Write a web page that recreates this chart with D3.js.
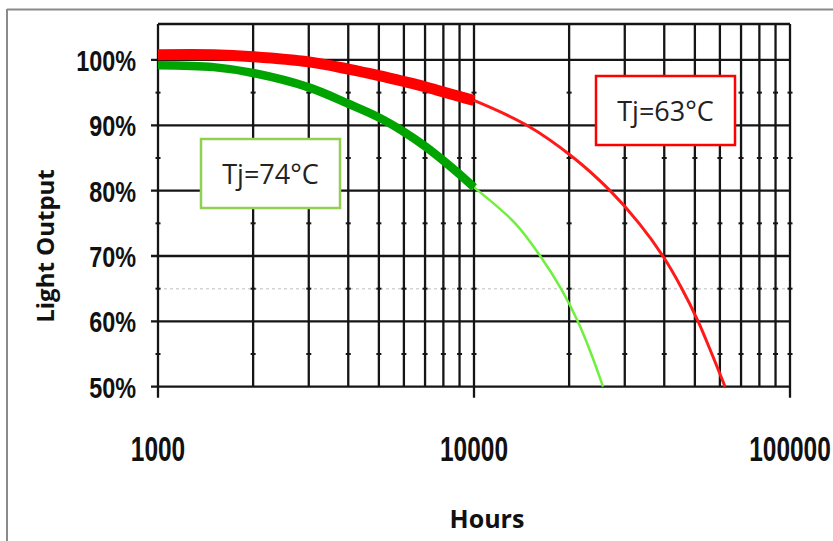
<!DOCTYPE html>
<html>
<head>
<meta charset="utf-8">
<script src="https://cdn.jsdelivr.net/npm/d3@7"></script>
<style>
  body { margin: 0; background: #fff; }
  svg { display: block; }
</style>
</head>
<body>
<div id="chart"></div>
<script>
// values
var yTicks = [50, 60, 70, 80, 90, 100];
var yMinorTicks = [55, 65, 75, 85, 95];
var xLabelTicks = [1000, 10000, 100000];

// Tj=63°C, dense part then single line
var redThickHours = [1000, 1500, 2000, 3000, 4000, 5000, 6000, 7000, 8000, 9000, 10000];
var redThickOutput = [100.8, 100.8, 100.5, 99.7, 98.6, 97.6, 96.7, 95.9, 95.1, 94.4, 93.8];
var redThinHours = [10000, 14700, 20700, 26950, 33300, 39600, 45500, 51200, 56600, 62300];
var redThinOutput = [93.8, 90, 85, 80, 75, 70, 65, 60, 55, 50];

// Tj=74°C
var greenThickHours = [1000, 1500, 2000, 3000, 4000, 5000, 6000, 7000, 8000, 9000, 10000];
var greenThickOutput = [99.2, 98.9, 98.0, 95.8, 93.3, 91.2, 89.0, 86.8, 84.6, 82.5, 80.5];
var greenThinHours = [10000, 13500, 16200, 18850, 21300, 23500, 25600];
var greenThinOutput = [80.5, 75, 70, 65, 60, 55, 50];

function drawChart() {
  var W = 833, H = 541;
  var pLeft = 158, pRight = 790, pTop = 24, pBottom = 386.7;

  var svg = d3.select('#chart').append('svg')
    .attr('width', W)
    .attr('height', H);

  // outer frame (top + left only)
  svg.append('line').attr('x1', 7).attr('x2', W).attr('y1', 9.5).attr('y2', 9.5)
    .attr('stroke', '#8a8a8a').attr('stroke-width', 2);
  svg.append('line').attr('x1', 7).attr('x2', 7).attr('y1', 9).attr('y2', H)
    .attr('stroke', '#8a8a8a').attr('stroke-width', 2);

  var x = d3.scaleLog().domain([1000, 100000]).range([pLeft, pRight]);
  var y = d3.scaleLinear().domain([50, 105.5]).range([pBottom, pTop]);

  var grid = svg.append('g');

  // faint dotted 65% line
  grid.append('line')
    .attr('x1', pLeft).attr('x2', pRight)
    .attr('y1', y(65)).attr('y2', y(65))
    .attr('stroke', '#d4d4d4').attr('stroke-width', 1.5)
    .attr('stroke-dasharray', '3,3');

  // vertical grid lines
  grid.selectAll('.vg').data(x.ticks())
    .enter().append('line')
    .attr('class', 'vg')
    .attr('x1', function(d) { return x(d); })
    .attr('x2', function(d) { return x(d); })
    .attr('y1', pTop)
    .attr('y2', function(d) { return xLabelTicks.indexOf(d) >= 0 ? pBottom + 11 : pBottom; })
    .attr('stroke', '#151515').attr('stroke-width', 2.3);

  // horizontal grid lines
  grid.selectAll('.hg').data(yTicks)
    .enter().append('line')
    .attr('class', 'hg')
    .attr('x1', pLeft - 7).attr('x2', pRight)
    .attr('y1', function(d) { return y(d); })
    .attr('y2', function(d) { return y(d); })
    .attr('stroke', '#151515').attr('stroke-width', 2.3);

  // top border
  grid.append('line')
    .attr('x1', pLeft).attr('x2', pRight)
    .attr('y1', pTop).attr('y2', pTop)
    .attr('stroke', '#151515').attr('stroke-width', 2.3);

  // minor tick dashes on each vertical line
  var minor = [];
  x.ticks().forEach(function(h) {
    yMinorTicks.forEach(function(v) { minor.push([h, v]); });
  });
  grid.selectAll('.mt').data(minor)
    .enter().append('line')
    .attr('x1', function(d) { return x(d[0]) - 2.5; })
    .attr('x2', function(d) { return x(d[0]) + 2.5; })
    .attr('y1', function(d) { return y(d[1]); })
    .attr('y2', function(d) { return y(d[1]); })
    .attr('stroke', '#151515').attr('stroke-width', 2);

  // curves
  var line = d3.line()
    .x(function(d) { return x(d[0]); })
    .y(function(d) { return y(d[1]); })
    .curve(d3.curveCatmullRom.alpha(0.5));

  function pairs(hs, vs) {
    return hs.map(function(h, i) { return [h, vs[i]]; });
  }

  var curves = svg.append('g').attr('fill', 'none');

  curves.append('path')
    .attr('d', line(pairs(greenThinHours, greenThinOutput)))
    .attr('stroke', '#6ef03c').attr('stroke-width', 2.5);
  curves.append('path')
    .attr('d', line(pairs(redThinHours, redThinOutput)))
    .attr('stroke', '#ff1a1a').attr('stroke-width', 3);
  curves.append('path')
    .attr('d', line(pairs(redThickHours, redThickOutput)))
    .attr('stroke', '#ff0000').attr('stroke-width', 11);
  curves.append('path')
    .attr('d', line(pairs(greenThickHours, greenThickOutput)))
    .attr('stroke', '#00a400').attr('stroke-width', 8.5);

  // y tick labels
  svg.selectAll('.yl').data(yTicks)
    .enter().append('text')
    .attr('transform', function(d) { return 'translate(136,' + (y(d) + 11) + ') scale(0.78,1)'; })
    .attr('text-anchor', 'end')
    .attr('font-family', 'Liberation Sans, Arial, sans-serif')
    .attr('font-weight', 'bold')
    .attr('font-size', 30)
    .attr('fill', '#111')
    .text(function(d) { return d + '%'; });

  // x tick labels
  svg.selectAll('.xl').data(xLabelTicks)
    .enter().append('text')
    .attr('transform', function(d) { return 'translate(' + x(d) + ',461) scale(0.7,1)'; })
    .attr('text-anchor', 'middle')
    .attr('font-family', 'Liberation Sans, Arial, sans-serif')
    .attr('font-weight', 'bold')
    .attr('font-size', 35)
    .attr('fill', '#111')
    .text(function(d) { return d; });

  // axis titles
  svg.append('text')
    .attr('transform', 'translate(54,246) rotate(-90)')
    .attr('text-anchor', 'middle')
    .attr('font-family', 'Open Sans, sans-serif')
    .attr('font-weight', 'bold')
    .attr('font-size', 24)
    .attr('fill', '#111')
    .text('Light Output');

  svg.append('text')
    .attr('x', 487).attr('y', 528)
    .attr('text-anchor', 'middle')
    .attr('font-family', 'Open Sans, sans-serif')
    .attr('font-weight', 'bold')
    .attr('font-size', 25)
    .attr('fill', '#111')
    .text('Hours');

  // annotation boxes
  function note(x0, y0, w, h, color, label) {
    var g = svg.append('g');
    g.append('rect')
      .attr('x', x0).attr('y', y0).attr('width', w).attr('height', h)
      .attr('fill', '#fff').attr('stroke', color).attr('stroke-width', 2.5);
    g.append('text')
      .attr('x', x0 + w / 2).attr('y', y0 + h / 2 + 10)
      .attr('text-anchor', 'middle')
      .attr('font-family', 'Open Sans, sans-serif')
      .attr('font-size', 27)
      .attr('fill', '#222')
      .text(label);
  }
  note(201, 139, 139, 69, '#92d050', 'Tj=74°C');
  note(596, 76, 139, 69, '#ff0000', 'Tj=63°C');
}

drawChart();
</script>
</body>
</html>
